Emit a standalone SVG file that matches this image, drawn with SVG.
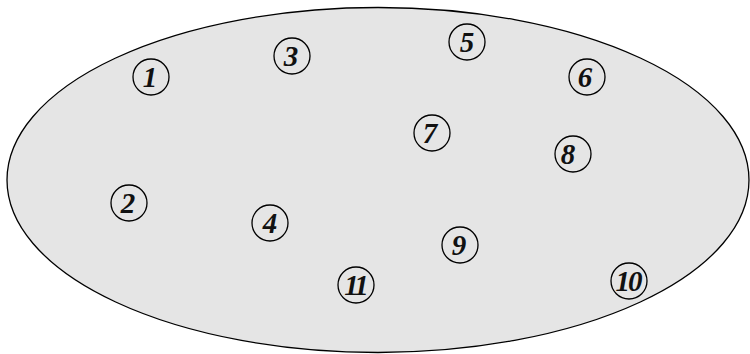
<svg xmlns="http://www.w3.org/2000/svg" width="750" height="354" viewBox="0 0 750 354">
<style>
.n circle{fill:none;stroke:#000;stroke-width:1.3}
.n text{font-family:"Liberation Serif",serif;font-style:italic;font-weight:bold;font-size:29px;text-anchor:middle;fill:#111}
</style>
<rect width="750" height="354" fill="#fff"/>
<ellipse cx="378" cy="180" rx="371" ry="172.5" fill="#e5e5e5" stroke="#000" stroke-width="1.3"/>
<g id="connectors"/>
<g id="n1" class="n"><circle cx="151" cy="77" r="18"/><text x="150" y="87">1</text></g>
<g id="n2" class="n"><circle cx="129" cy="203" r="18"/><text x="128" y="213">2</text></g>
<g id="n3" class="n"><circle cx="292" cy="56" r="18"/><text x="291" y="66">3</text></g>
<g id="n4" class="n"><circle cx="270" cy="223" r="18"/><text x="270" y="233">4</text></g>
<g id="n5" class="n"><circle cx="467" cy="42" r="18"/><text x="467" y="52">5</text></g>
<g id="n6" class="n"><circle cx="587" cy="77" r="18"/><text x="585" y="87">6</text></g>
<g id="n7" class="n"><circle cx="432" cy="133" r="18"/><text x="430" y="143">7</text></g>
<g id="n8" class="n"><circle cx="573" cy="154" r="18"/><text x="568" y="164">8</text></g>
<g id="n9" class="n"><circle cx="460" cy="245" r="18"/><text x="459" y="255">9</text></g>
<g id="n10" class="n"><circle cx="629" cy="281" r="18"/><text x="628" y="291" letter-spacing="-2">10</text></g>
<g id="n11" class="n"><circle cx="356" cy="285" r="18"/><text x="355" y="295" letter-spacing="-3">11</text></g>
</svg>
